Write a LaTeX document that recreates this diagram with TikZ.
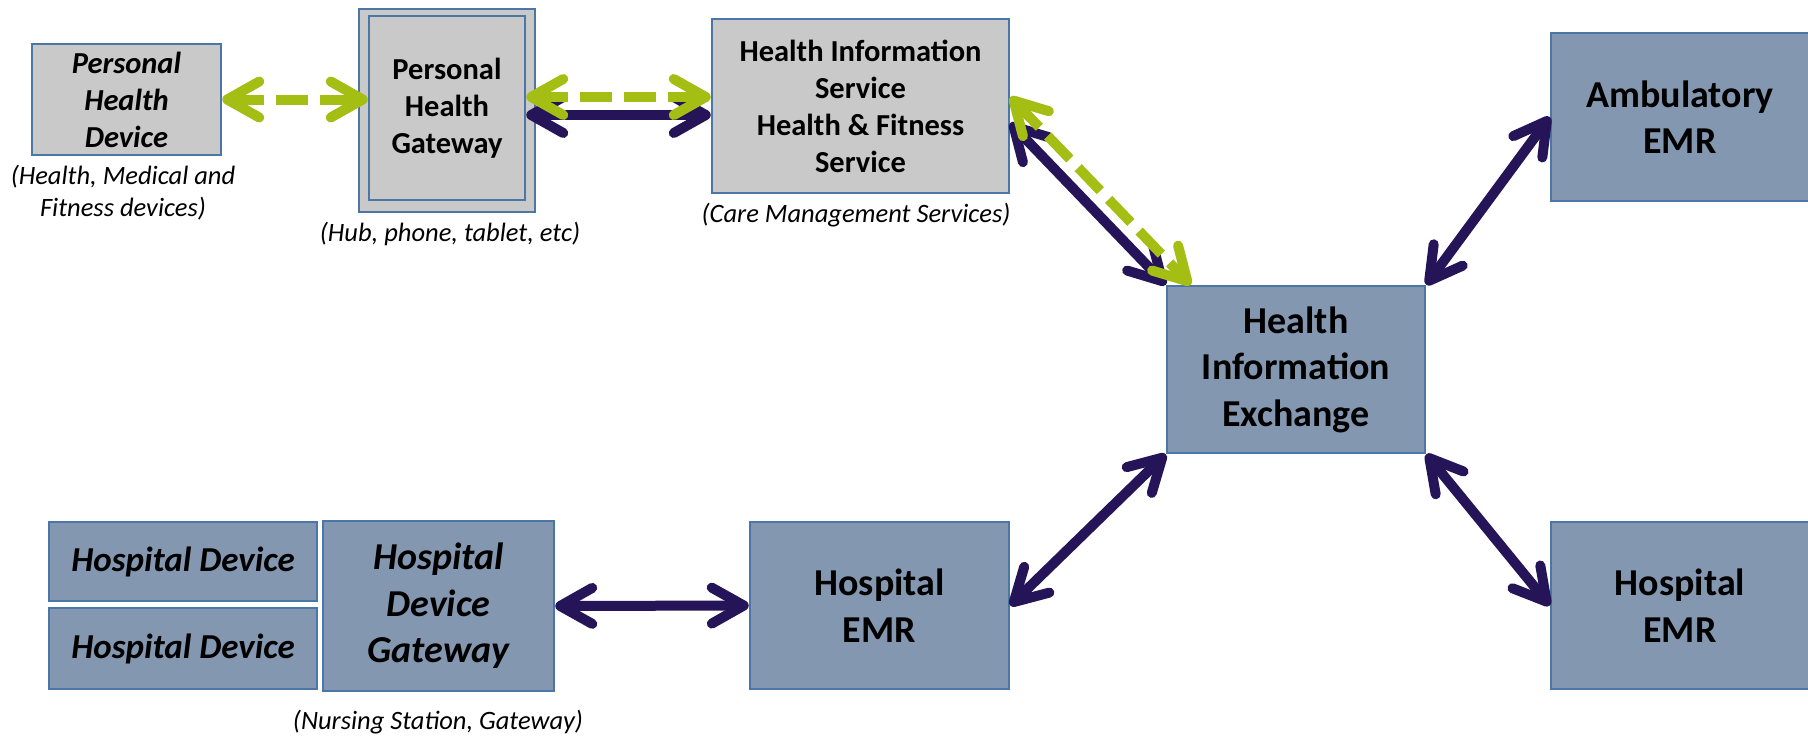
\documentclass[tikz,border=0pt]{standalone}
\usepackage{fontspec}
\setmainfont{Carlito}
\usetikzlibrary{arrows.meta}

\definecolor{boxgrey}{HTML}{C9C9C9}
\definecolor{boxblue}{HTML}{8497B0}
\definecolor{boxline}{HTML}{4A76A8}
\definecolor{linkdark}{HTML}{261459}
\definecolor{linkgreen}{HTML}{A5BE14}

\begin{document}
\begin{tikzpicture}[x=1pt,y=-1pt,
  box/.style={draw=boxline,line width=2.5pt,align=center,inner sep=0pt},
  greybox/.style={box,fill=boxgrey,font=\fontsize{30.5}{37}\selectfont\bfseries},
  bluebox/.style={box,fill=boxblue,font=\fontsize{38}{46.5}\selectfont\bfseries},
  note/.style={align=center,font=\fontsize{26.5}{32}\selectfont\itshape},
  link/.style={line width=10pt,{Straight Barb[length=32pt,width=36pt,round]}-{Straight Barb[length=32pt,width=36pt,round]}},
  darklink/.style={link,draw=linkdark},
  greenlink/.style={link,draw=linkgreen,dash pattern=on 32pt off 12pt}]
\useasboundingbox (0,0) rectangle (1808,737);
\node (phd) at (126.5,99.5) [greybox,font=\fontsize{30.5}{37}\selectfont\bfseries\itshape,minimum width=189pt,minimum height=111pt] {Personal\\Health\\Device};
\node (gwout) at (447,110.5) [greybox,minimum width=176pt,minimum height=203pt] {};
\node (gwin) at (447,108) [greybox,minimum width=156pt,minimum height=184pt] {Personal\\Health\\Gateway};
\node (his) at (860.5,106) [greybox,minimum width=297pt,minimum height=174pt] {Health Information\\Service\\Health \& Fitness\\Service};
\node (hie) at (1296,369.5) [bluebox,minimum width=258pt,minimum height=167pt] {Health\\Information\\Exchange};
\node (amb) at (1680,117) [bluebox,minimum width=258pt,minimum height=168pt] {Ambulatory\\EMR};
\node (hemrb) at (1680,605.5) [bluebox,minimum width=258pt,minimum height=167pt] {Hospital\\EMR};
\node (hemra) at (879.5,605.5) [bluebox,minimum width=259pt,minimum height=167pt] {Hospital\\EMR};
\node (hdg) at (438.5,606) [bluebox,font=\fontsize{38}{46.5}\selectfont\bfseries\itshape,minimum width=231pt,minimum height=170pt] {Hospital\\Device\\Gateway};
\node (hda) at (183,561.5) [bluebox,font=\fontsize{35}{42}\selectfont\bfseries\itshape,minimum width=268pt,minimum height=79pt] {Hospital Device};
\node (hdb) at (183,648.5) [bluebox,font=\fontsize{35}{42}\selectfont\bfseries\itshape,minimum width=268pt,minimum height=81pt] {Hospital Device};
\node (phdnote) at (123,193) [note] {(Health, Medical and\\Fitness devices)};
\node (gwnote) at (450,234) [note] {(Hub, phone, tablet, etc)};
\node (hisnote) at (856,215) [note] {(Care Management Services)};
\node (hdgnote) at (438,722) [note] {(Nursing Station, Gateway)};
\draw[darklink] ([yshift=-7pt]gwin.east) -- ([yshift=-7pt]gwin.east -| his.west);
\draw[darklink] ([yshift=-17pt]his.east) -- (hie.north west);
\draw[darklink] (hie.north east) -- (amb.west);
\draw[darklink] (hie.south east) -- (hemrb.west);
\draw[darklink] (hie.south west) -- (hemra.east);
\draw[darklink] (hdg.east) -- (hemra.west);
\draw[greenlink] (phd) -- (phd -| gwin.west);
\draw[greenlink] ([yshift=11pt]gwin.east) -- ([yshift=11pt]gwin.east -| his.west);
\draw[greenlink] ([yshift=9pt]his.east) -- ([xshift=25pt]hie.north west);
\end{tikzpicture}
\end{document}
